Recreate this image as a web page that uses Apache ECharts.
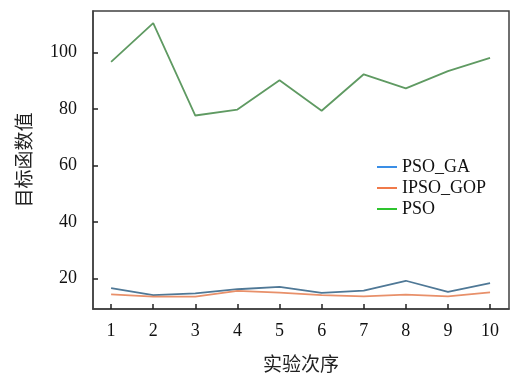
<!DOCTYPE html>
<html><head><meta charset="utf-8">
<script src="https://cdn.jsdelivr.net/npm/echarts@6/dist/echarts.min.js"></script>
<style>html,body{margin:0;padding:0;background:#fff}#c{width:513px;height:378px}</style>
</head><body><div id="c"></div>
<script>
const categories = [1,2,3,4,5,6,7,8,9,10];
const psoGA = [16.6,14.1,14.7,16.2,17.0,14.9,15.7,19.2,15.3,18.4];
const ipsoGOP = [14.4,13.6,13.6,15.6,15.0,14.1,13.7,14.3,13.7,15.1];
const pso = [96.7,110.4,77.7,79.8,90.2,79.4,92.3,87.3,93.4,98.1];
const yTicks = [20,40,60,80,100];
const xTicks = [1,2,3,4,5,6,7,8,9,10];
const names = ['PSO_GA','IPSO_GOP','PSO'];
const lineColors = ['#4f7896','#e8906a','#5f9a62'];
const legendColors = ['#3a8ee6','#f07a4a','#2ec42e'];
const chart = echarts.init(document.getElementById('c'));
const serif = '"Liberation Serif","DejaVu Serif",serif';
const cjk = '"Noto Sans CJK SC",sans-serif';
const mk = (vals)=>vals.map((v,i)=>[categories[i],v]);
const datas = [psoGA, ipsoGOP, pso];
chart.setOption({
  animation:false,
  grid:{left:93,right:4,top:11,bottom:65,show:true,borderColor:'#404040',borderWidth:1.5},
  legend:{
    orient:'vertical', left:372, top:153, itemGap:3, itemWidth:20, itemHeight:2,
    icon:'rect',
    textStyle:{fontFamily:serif,fontSize:18,color:'#111'},
    data: names.map((n,i)=>({name:n,itemStyle:{color:legendColors[i]},lineStyle:{color:legendColors[i]}}))
  },
  xAxis:{
    type:'value', min:0.57, max:10.45,
    name:'实验次序', nameLocation:'middle', nameGap:45,
    nameTextStyle:{fontFamily:cjk,fontSize:19,color:'#222'},
    axisLine:{show:true,lineStyle:{color:'#404040',width:1.5}},
    axisTick:{show:true,inside:true,length:5,customValues:xTicks,lineStyle:{color:'#222',width:1.5}},
    axisLabel:{customValues:xTicks,fontFamily:serif,fontSize:18,color:'#111',margin:13},
    splitLine:{show:false}
  },
  yAxis:{
    type:'value', min:9.2, max:114.7,
    name:'目标函数值', nameLocation:'middle', nameGap:60, nameRotate:90,
    nameTextStyle:{fontFamily:cjk,fontSize:19,color:'#222'},
    axisLine:{show:true,lineStyle:{color:'#404040',width:1.5}},
    axisTick:{show:true,inside:true,length:5,customValues:yTicks,lineStyle:{color:'#222',width:1.5}},
    axisLabel:{customValues:yTicks,fontFamily:serif,fontSize:18,color:'#111',margin:16},
    splitLine:{show:false}
  },
  series: names.map((n,i)=>({
    name:n, type:'line', data:mk(datas[i]), showSymbol:false, symbol:'none',
    lineStyle:{color:lineColors[i],width:1.8}, itemStyle:{color:lineColors[i]}
  }))
});
</script></body></html>
